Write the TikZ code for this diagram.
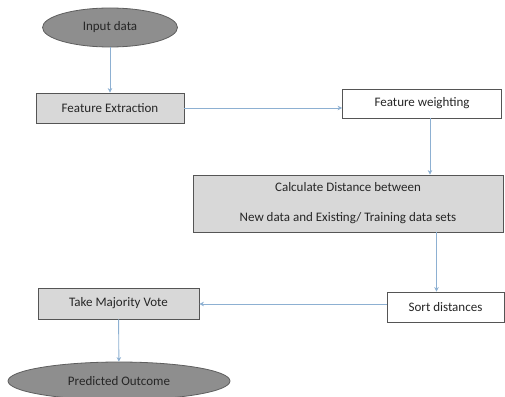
\documentclass[tikz,border=0pt]{standalone}
\usepackage{fontspec}
\setmainfont{Carlito}
\usetikzlibrary{arrows.meta,shapes.geometric}
\definecolor{termfill}{HTML}{8E8E8E}
\definecolor{termline}{HTML}{5E5E5E}
\definecolor{boxfill}{HTML}{D8D8D8}
\definecolor{boxline}{HTML}{555555}
\definecolor{flow}{HTML}{8DB0D2}
\begin{document}
\begin{tikzpicture}[x=1pt,y=-1pt,
  every node/.style={font=\fontsize{13}{17}\selectfont, text=black!85, inner sep=0pt},
  term/.style={ellipse, draw=termline, fill=termfill, line width=0.8pt},
  graybox/.style={rectangle, draw=boxline, fill=boxfill, line width=0.8pt},
  whitebox/.style={rectangle, draw=boxline, fill=white, line width=0.8pt},
  arr/.style={draw=flow, line width=0.9pt, -{Stealth[length=4.5pt,width=4.5pt]}}]
\useasboundingbox[fill=white] (0,0) rectangle (505,396);

\node[term, minimum width=135pt, minimum height=39pt] (in) at (110,27.5) {Input data};
\node[graybox, minimum width=148pt, minimum height=30pt] (fe) at (110,108) {Feature Extraction};
\node[whitebox, minimum width=159pt, minimum height=29pt] (fw) at (422,103.5) {Feature weighting};
\node[graybox, minimum width=310pt, minimum height=57pt, align=center] (cd) at (348,203.5)
  {Calculate Distance between\\[13pt]New data and Existing/ Training data sets};
\node[whitebox, minimum width=117pt, minimum height=30pt] (sd) at (445.5,307) {Sort distances};
\node[graybox, minimum width=161pt, minimum height=31pt] (mv) at (118.5,303.5) {Take Majority Vote};
\node[term, minimum width=222pt, minimum height=38pt] (po) at (119,381) {Predicted Outcome};

\draw[arr] (in) -- (fe);
\draw[arr] (fe.east) -- (fe.east -| fw.west);
\draw[arr] ([xshift=8pt]fw.south) -- ([xshift=8pt]fw.south |- cd.north);
\draw[arr] ([xshift=-9pt]sd.north |- cd.south) -- ([xshift=-9pt]sd.north);
\draw[arr] ([yshift=3pt]sd.west) -- ([yshift=3pt]sd.west -| mv.east);
\draw[arr] (mv) -- (po);
\end{tikzpicture}
\end{document}
